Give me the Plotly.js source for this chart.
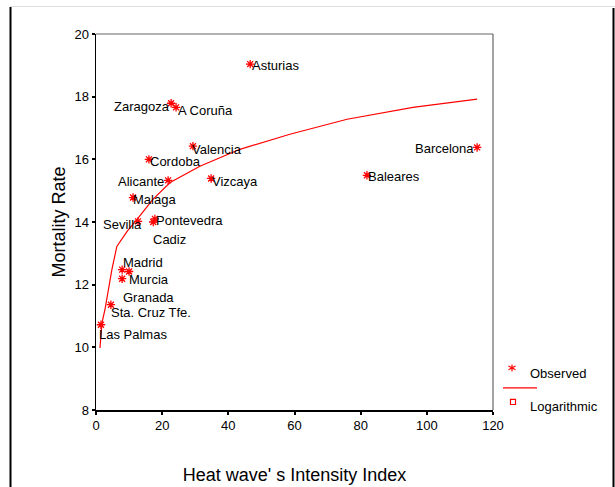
<!DOCTYPE html>
<html>
<head>
<meta charset="utf-8">
<script src="https://cdn.plot.ly/plotly-3.0.1.min.js"></script>
<style>html,body{margin:0;padding:0;background:#fff;}#chart{width:615px;height:487px;}</style>
</head>
<body>
<div id="chart"></div>
<script>
// Observed provinces
const provinces = ["Asturias","Zaragoza","A Coruña","Valencia","Cordoba","Alicante","Vizcaya","Malaga","Sevilla","Pontevedra","Cadiz","Madrid","Granada","Murcia","Sta. Cruz Tfe.","Las Palmas","Barcelona","Baleares"];
const intensity = [46.6, 22.7, 24.2, 29.3, 16.0, 21.8, 34.8, 11.2, 12.7, 17.8, 17.3, 7.9, 10.0, 7.9, 4.5, 1.5, 115.2, 81.9];
const mortality = [19.04, 17.79, 17.66, 16.42, 16.0, 15.33, 15.39, 14.78, 14.02, 14.1, 14.0, 12.48, 12.42, 12.19, 11.36, 10.72, 16.38, 15.49];

// Label positions (data units) and anchors
const labelX = [47.2, 22.4, 24.8, 29.0, 16.3, 20.6, 35.1, 11.2, 2.1, 18.1, 17.2, 8.2, 8.2, 10.0, 4.5, 0.9, 114.3, 82.2];
const labelY = [18.98, 17.70, 17.57, 16.32, 15.94, 15.30, 15.30, 14.72, 13.92, 14.05, 13.44, 12.70, 11.58, 12.16, 11.10, 10.40, 16.35, 15.46];
const labelAnchor = ["left","right","left","left","left","right","left","left","left","left","left","left","left","left","left","left","right","left"];

// Logarithmic fit curve
const fitX = [1.2, 1.8, 2.7, 3.6, 4.8, 6.3, 9.4, 12.4, 17.2, 22.4, 31.4, 43.5, 58.6, 75.9, 95.8, 115.2];
const fitY = [9.98, 10.78, 11.2, 11.74, 12.48, 13.22, 13.70, 14.08, 14.72, 15.26, 15.78, 16.32, 16.80, 17.28, 17.66, 17.92];

const xTicks = [0, 20, 40, 60, 80, 100, 120];
const yTicks = [8, 10, 12, 14, 16, 18, 20];

const font = "Arial, 'Liberation Sans', sans-serif";

const traces = [
  {x: fitX, y: fitY, type: "scatter", mode: "lines", line: {color: "red", width: 1.2}, showlegend: false, hoverinfo: "skip"},
  {x: intensity, y: mortality, type: "scatter", mode: "markers", text: provinces,
   marker: {symbol: "asterisk-open", size: 7, line: {color: "red", width: 1.3}, color: "red"}, showlegend: false}
];

const annotations = provinces.map((p, i) => ({
  x: labelX[i], y: labelY[i], xref: "x", yref: "y", text: p, showarrow: false,
  xanchor: labelAnchor[i], yanchor: "middle", xshift: labelAnchor[i] === "left" ? -2 : 2,
  font: {family: font, size: 13, color: "#000"}
}));

// px to paper helpers
const px = v => (v - 96) / 397;
const py = v => (410 - v) / 375;

annotations.push({x: px(530), y: py(374), xref: "paper", yref: "paper", text: "Observed", showarrow: false, xanchor: "left", yanchor: "middle", xshift: -2, font: {family: font, size: 13, color: "#000"}});
annotations.push({x: px(530), y: py(407), xref: "paper", yref: "paper", text: "Logarithmic", showarrow: false, xanchor: "left", yanchor: "middle", xshift: -2, font: {family: font, size: 13, color: "#000"}});

const sx = 512, sy = 368, r = 3.5;
const star = `M${px(sx)},${py(sy - r)} L${px(sx)},${py(sy + r)} M${px(sx - r)},${py(sy - r*0.55)} L${px(sx + r)},${py(sy + r*0.55)} M${px(sx - r)},${py(sy + r*0.55)} L${px(sx + r)},${py(sy - r*0.55)}`;

const shapes = [
  // outer frame
  {type: "line", xref: "paper", yref: "paper", x0: px(10.5), x1: px(10.5), y0: py(8), y1: py(490), line: {color: "#000", width: 2}},
  {type: "line", xref: "paper", yref: "paper", x0: px(613.5), x1: px(613.5), y0: py(9), y1: py(490), line: {color: "#000", width: 2}},
  {type: "line", xref: "paper", yref: "paper", x0: px(10), x1: px(615), y0: py(7.5), y1: py(7.5), line: {color: "#ddd", width: 1}},
  // plot box top & right
  {type: "line", xref: "paper", yref: "paper", x0: 0, x1: 1, y0: 1, y1: 1, line: {color: "#666", width: 1.2}},
  {type: "line", xref: "paper", yref: "paper", x0: 1, x1: 1, y0: 0, y1: 1, line: {color: "#666", width: 1.2}},
  // legend
  {type: "path", xref: "paper", yref: "paper", path: star, line: {color: "red", width: 1.2}},
  {type: "line", xref: "paper", yref: "paper", x0: px(503), x1: px(537), y0: py(388), y1: py(388), line: {color: "red", width: 1.2}},
  {type: "rect", xref: "paper", yref: "paper", x0: px(510.5), x1: px(515.5), y0: py(399.5), y1: py(404.5), line: {color: "red", width: 1.2}}
];

const layout = {
  width: 615, height: 487,
  margin: {l: 96, r: 122, t: 34, b: 77},
  paper_bgcolor: "#fff", plot_bgcolor: "#fff",
  showlegend: false,
  font: {family: font, size: 13, color: "#000"},
  xaxis: {
    range: [0, 120], tickvals: xTicks, ticktext: xTicks.map(String),
    showgrid: false, zeroline: false, showline: true, linecolor: "#000", linewidth: 1.5,
    ticks: "outside", ticklen: 3, tickwidth: 2, tickcolor: "#000",
    tickfont: {family: font, size: 13}, fixedrange: true,
    title: {text: "Heat wave' s Intensity Index", font: {family: font, size: 18}, standoff: 36}
  },
  yaxis: {
    range: [8, 20], tickvals: yTicks, ticktext: yTicks.map(String),
    showgrid: false, zeroline: false, showline: true, linecolor: "#000", linewidth: 1.5,
    ticks: "outside", ticklen: 3, tickwidth: 2, tickcolor: "#000",
    tickfont: {family: font, size: 13}, fixedrange: true,
    title: {text: "Mortality Rate", font: {family: font, size: 18}, standoff: 4}
  },
  annotations: annotations,
  shapes: shapes
};

Plotly.newPlot("chart", traces, layout, {displayModeBar: false, staticPlot: true});
</script>
</body>
</html>
